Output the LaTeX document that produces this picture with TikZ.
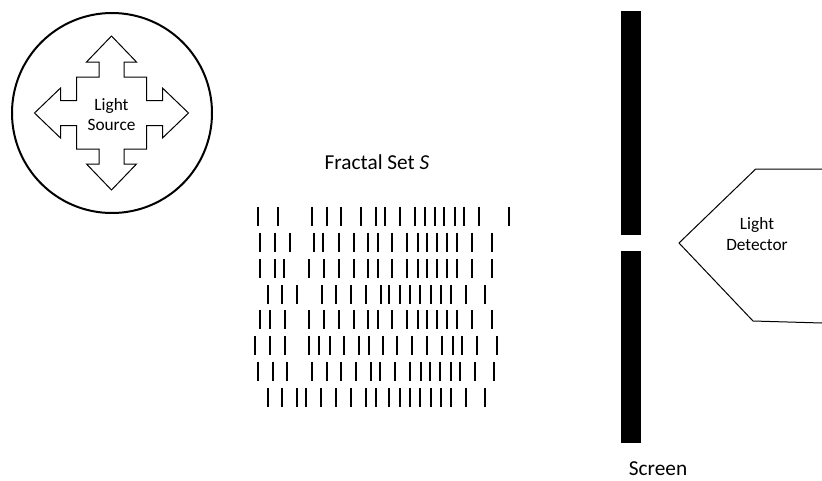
\documentclass[tikz,border=0pt]{standalone}
\usepackage{fontspec}
\setmainfont{Carlito}
\usetikzlibrary{positioning}
\tikzset{
  outline/.style={draw, line width=1pt},
  ring/.style={draw, circle, line width=2pt, minimum size=200pt, inner sep=0pt},
  small text/.style={font=\fontsize{17.3}{20.5}\selectfont, align=center, inner sep=0pt},
  big text/.style={font=\fontsize{21.3}{25}\selectfont, inner sep=0pt},
  fractal bar/.style={line width=2pt},
  screen part/.style={fill=black},
}

\begin{document}
\begin{tikzpicture}[x=1pt, y=-1pt]
  \useasboundingbox (0,0) rectangle (822,480);

  % light source
  \node[ring] (source) at (112,113) {};
  \draw[outline, shift={(111.5,113)}]
    (0,-77) -- (-25,-51) -- (-12.5,-51) -- (-12.5,-36) -- (-35,-36) -- (-35,-12.5)
    -- (-51,-12.5) -- (-51,-25) -- (-77,0) -- (-51,25) -- (-51,12.5) -- (-35,12.5)
    -- (-35,36) -- (-12.5,36) -- (-12.5,51) -- (-25,51) -- (0,77) -- (25,51)
    -- (12.5,51) -- (12.5,36) -- (35,36) -- (35,12.5) -- (51,12.5) -- (51,25)
    -- (77,0) -- (51,-25) -- (51,-12.5) -- (35,-12.5) -- (35,-36) -- (12.5,-36)
    -- (12.5,-51) -- (25,-51) -- cycle;
  \node[small text] (source text) at (111.5,114.5) {Light\\Source};

  % fractal set
  \node[big text, anchor=base] (set label) at (377,169.3) {Fractal Set \textit{S}};
  \foreach \y/\xs in {
      216.3/{258,278,312,327,341,361,376,385,400,415,425,435,444,455,464,479,509},
      242.2/{260,275,290,314,323,339,354,368,378,392,407,418,427,437,447,457,472,492},
      268.3/{260,275,284,309,324,339,354,368,378,392,407,418,427,437,447,457,472,492},
      294.5/{268,282,297,322,336,351,366,381,389,400,410,420,431,441,451,466,485},
      319.5/{260,270,285,309,324,339,354,368,378,392,407,418,427,437,447,457,472,492},
      345.3/{255,270,285,309,319,330,344,359,369,383,397,412,427,442,453,462,477,497},
      371.3/{258,273,287,312,327,341,356,371,380,395,410,421,430,440,451,460,475,494},
      397.5/{268,282,297,306,321,336,351,366,376,389,400,410,420,431,441,451,466,485}}
    \foreach \x in \xs
      \draw[fractal bar] (\x,\y-9.5) -- (\x,\y+9.5);

  % screen
  \fill[screen part] (620.7,10.7) rectangle (640.7,235);
  \fill[screen part] (620.7,250.7) rectangle (640.7,443.3);
  \node[big text, anchor=base] (screen label) at (658,475) {Screen};

  % detector
  \draw[outline] (822,169) -- (755.7,169) -- (679,243) -- (753,321) -- (822,323);
  \node[small text] (detector text) at (757,234) {Light\\Detector};
\end{tikzpicture}
\end{document}
